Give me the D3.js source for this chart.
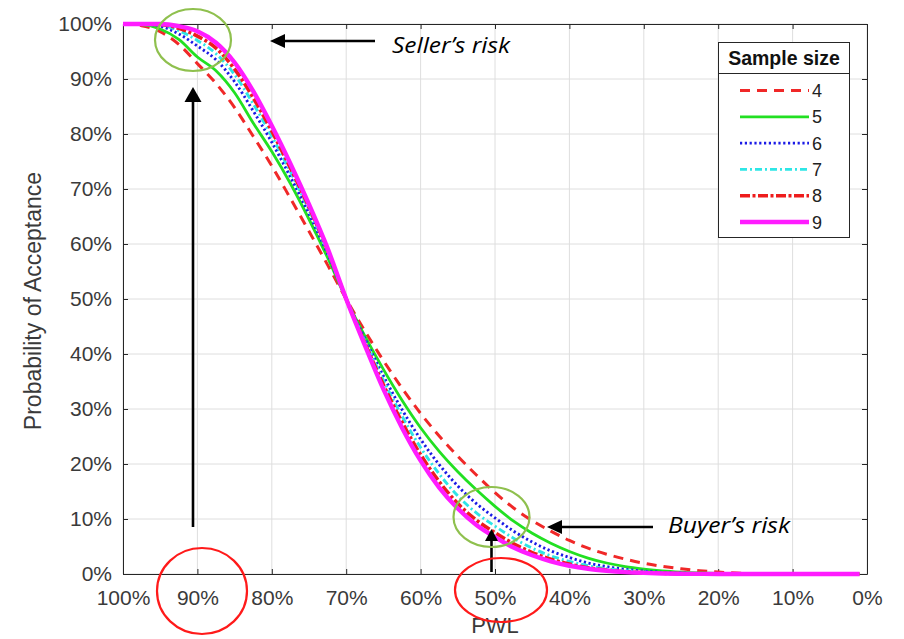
<!DOCTYPE html>
<html>
<head>
<meta charset="utf-8">
<script src="https://cdn.jsdelivr.net/npm/d3@7"></script>
<style>
  html, body { margin: 0; padding: 0; background: #fff; }
  svg { display: block; }
  .tick text { font-family: "Liberation Sans", Arial, sans-serif; }
</style>
</head>
<body>
<svg id="chart" width="904" height="639"></svg>
<script>
// PWL values (percent within limits) along the horizontal axis
const pwl = [100, 97.5, 95, 92.5, 90, 87.5, 85, 82.5, 80, 77.5, 75, 72.5, 70, 67.5, 65, 62.5, 60,
             57.5, 55, 52.5, 50, 47.5, 45, 42.5, 40, 37.5, 35, 32.5, 30, 27.5, 25, 22.5, 20, 17.5, 15, 10, 5, 1];

// Probability of acceptance (%) for each sample size
const n4 = [100, 99.7, 98.6, 96.3, 92.8, 89.2, 84.8, 79.6, 74.2, 68.3, 62.3, 56.2, 50, 44.2, 38.8, 33.8, 29.2,
            25.1, 21.4, 18.0, 14.8, 12.0, 9.7, 7.8, 6.1, 4.7, 3.6, 2.7, 1.95, 1.4, 0.95, 0.6, 0.35, 0.18, 0.08, 0.01, 0, 0];
const n5 = [100, 99.9, 99.1, 97.2, 94.0, 91.5, 87.5, 82.0, 76.8, 71.0, 64.5, 57.5, 50, 43.3, 37.2, 31.6, 26.6,
            22.3, 18.6, 15.3, 12.3, 9.6, 7.4, 5.6, 4.1, 2.9, 2.0, 1.35, 0.9, 0.55, 0.33, 0.18, 0.09, 0.04, 0.01, 0, 0, 0];
const n6 = [100, 100, 99.6, 98.2, 96.0, 93.5, 89.5, 84.2, 78.5, 72.2, 65.5, 58.2, 50, 42.8, 36.0, 29.9, 24.5,
            19.9, 16.0, 12.8, 10.2, 7.8, 5.8, 4.2, 3.0, 2.0, 1.35, 0.85, 0.52, 0.3, 0.17, 0.08, 0.03, 0.01, 0, 0, 0, 0];
const n7 = [100, 100, 99.8, 98.8, 97.0, 94.6, 90.8, 85.5, 79.6, 73.1, 66.2, 58.6, 50, 42.4, 35.2, 28.7, 23.0,
            18.2, 14.2, 11.1, 8.7, 6.5, 4.7, 3.3, 2.3, 1.5, 0.95, 0.6, 0.35, 0.2, 0.1, 0.04, 0.01, 0, 0, 0, 0, 0];
const n8 = [100, 100, 99.9, 99.2, 97.8, 95.6, 91.8, 86.6, 80.5, 73.8, 66.7, 58.9, 50, 42.0, 34.4, 27.6, 21.7,
            16.8, 12.8, 9.8, 7.5, 5.5, 3.9, 2.7, 1.8, 1.15, 0.7, 0.42, 0.24, 0.13, 0.06, 0.02, 0, 0, 0, 0, 0, 0];
const n9 = [100, 100, 100, 99.6, 98.7, 96.6, 93.0, 87.8, 81.5, 74.6, 67.2, 59.2, 50, 41.6, 33.6, 26.6, 20.6,
            15.7, 11.9, 8.9, 6.7, 4.8, 3.4, 2.3, 1.5, 0.95, 0.6, 0.35, 0.2, 0.1, 0.05, 0.02, 0, 0, 0, 0, 0, 0];

const sampleSizes = ["4", "5", "6", "7", "8", "9"];
const seriesValues = [n4, n5, n6, n7, n8, n9];

// Axis ticks
const xTicks = [100, 90, 80, 70, 60, 50, 40, 30, 20, 10, 0];
const yTicks = [0, 10, 20, 30, 40, 50, 60, 70, 80, 90, 100];

// Line styles per sample size
const lineStyles = {
  "4": { color: "#f02828", width: 3, dash: "10,7" },
  "5": { color: "#22e022", width: 2.8, dash: null },
  "6": { color: "#1a1ae6", width: 2.9, dash: "2.2,2.6" },
  "7": { color: "#2ee6e6", width: 2.9, dash: "7,3,2,3" },
  "8": { color: "#ee1c1c", width: 3.6, dash: "10,2.5,3,2.5" },
  "9": { color: "#ff1cff", width: 4.4, dash: null }
};

const svg = d3.select("#chart");
const plotLeft = 123, plotRight = 867, plotTop = 24, plotBottom = 574;

const x = d3.scaleLinear().domain([100, 0]).range([plotLeft, plotRight]);
const y = d3.scaleLinear().domain([0, 100]).range([plotBottom, plotTop]);
const pct = d => d + "%";

// Grid
const grid = svg.append("g");
grid.selectAll("line.gx").data(xTicks).join("line")
  .attr("x1", d => x(d)).attr("x2", d => x(d))
  .attr("y1", plotTop).attr("y2", plotBottom)
  .attr("stroke", "#dedede").attr("stroke-width", 1);
grid.selectAll("line.gy").data(yTicks).join("line")
  .attr("x1", plotLeft).attr("x2", plotRight)
  .attr("y1", d => y(d)).attr("y2", d => y(d))
  .attr("stroke", "#dedede").attr("stroke-width", 1);

// Axes with inward ticks on all four sides
function styleAxis(g) {
  g.select(".domain").attr("stroke", "#262626");
  g.selectAll(".tick line").attr("stroke", "#262626");
  g.selectAll(".tick text").attr("fill", "#3a3a3a").attr("font-size", 21);
}
svg.append("g").attr("transform", `translate(0,${plotBottom})`)
  .call(d3.axisBottom(x).tickValues(xTicks).tickFormat(pct).tickSizeInner(-5).tickSizeOuter(0).tickPadding(16))
  .call(styleAxis);
svg.append("g").attr("transform", `translate(${plotLeft},0)`)
  .call(d3.axisLeft(y).tickValues(yTicks).tickFormat(pct).tickSizeInner(-5).tickSizeOuter(0).tickPadding(11))
  .call(styleAxis);
svg.append("g").attr("transform", `translate(0,${plotTop})`)
  .call(d3.axisTop(x).tickValues(xTicks).tickFormat("").tickSizeInner(-5).tickSizeOuter(0))
  .call(styleAxis);
svg.append("g").attr("transform", `translate(${plotRight},0)`)
  .call(d3.axisRight(y).tickValues(yTicks).tickFormat("").tickSizeInner(-5).tickSizeOuter(0))
  .call(styleAxis);

// Axis titles
svg.append("text")
  .attr("x", x(50)).attr("y", 633)
  .attr("text-anchor", "middle")
  .attr("font-family", "Liberation Sans, Arial, sans-serif")
  .attr("font-size", 22).attr("fill", "#3a3a3a")
  .text("PWL");
svg.append("text")
  .attr("transform", `translate(41,${(plotTop + plotBottom) / 2 + 2}) rotate(-90)`)
  .attr("text-anchor", "middle")
  .attr("font-family", "Liberation Sans, Arial, sans-serif")
  .attr("font-size", 23).attr("fill", "#3a3a3a")
  .text("Probability of Acceptance");

// Operating characteristic curves
const line = d3.line()
  .x(d => x(d[0]))
  .y(d => y(d[1]))
  .curve(d3.curveMonotoneX);

sampleSizes.forEach((name, i) => {
  const st = lineStyles[name];
  svg.append("path")
    .datum(pwl.map((p, j) => [p, seriesValues[i][j]]))
    .attr("d", line)
    .attr("fill", "none")
    .attr("stroke", st.color)
    .attr("stroke-width", st.width)
    .attr("stroke-dasharray", st.dash)
    .attr("stroke-linejoin", "round");
});

// Legend
const lg = svg.append("g");
lg.append("rect").attr("x", 718.5).attr("y", 42.5).attr("width", 131).attr("height", 195)
  .attr("fill", "#fff").attr("stroke", "#262626").attr("stroke-width", 1);
lg.append("line").attr("x1", 718.5).attr("x2", 849.5).attr("y1", 73.5).attr("y2", 73.5)
  .attr("stroke", "#262626").attr("stroke-width", 1);
lg.append("text").attr("x", 784).attr("y", 65).attr("text-anchor", "middle")
  .attr("font-family", "Liberation Sans, Arial, sans-serif")
  .attr("font-size", 19.5).attr("font-weight", "bold").attr("fill", "#111")
  .text("Sample size");
sampleSizes.forEach((name, i) => {
  const st = lineStyles[name];
  const ly = 90.5 + i * 26.3;
  lg.append("line").attr("x1", 740).attr("x2", 809).attr("y1", ly).attr("y2", ly)
    .attr("stroke", st.color).attr("stroke-width", st.width)
    .attr("stroke-dasharray", st.dash);
  lg.append("text").attr("x", 812).attr("y", ly + 6.5)
    .attr("font-family", "Liberation Sans, Arial, sans-serif")
    .attr("font-size", 18).attr("fill", "#222")
    .text(name);
});

// Annotations
const ann = svg.append("g");
function arrow(x1, y1, x2, y2, headLen, headHalf) {
  const ang = Math.atan2(y2 - y1, x2 - x1);
  const bx = x2 - headLen * Math.cos(ang), by = y2 - headLen * Math.sin(ang);
  ann.append("line").attr("x1", x1).attr("y1", y1).attr("x2", bx).attr("y2", by)
    .attr("stroke", "#000").attr("stroke-width", 2.6);
  const px = -Math.sin(ang) * headHalf, py = Math.cos(ang) * headHalf;
  ann.append("path")
    .attr("d", `M${x2},${y2}L${bx + px},${by + py}L${bx - px},${by - py}Z`)
    .attr("fill", "#000");
}
arrow(193, 527, 193, 87, 15, 8.5);
arrow(375, 41, 270, 41, 15, 7);
arrow(653, 527, 547, 527, 15, 7);
arrow(491.5, 572, 491.5, 529, 12, 6.5);

const ellipses = [
  { cx: 193, cy: 40, rx: 38, ry: 31, color: "#8fc04e" },
  { cx: 491.5, cy: 517, rx: 38, ry: 30, color: "#8fc04e" },
  { cx: 202, cy: 591, rx: 45, ry: 43, color: "#ff1a1a" },
  { cx: 501, cy: 590, rx: 46, ry: 32, color: "#ff1a1a" }
];
ellipses.forEach(e => {
  ann.append("ellipse").attr("cx", e.cx).attr("cy", e.cy).attr("rx", e.rx).attr("ry", e.ry)
    .attr("fill", "none").attr("stroke", e.color).attr("stroke-width", 2.2);
});

ann.append("text").attr("x", 392).attr("y", 53)
  .attr("font-family", "Open Sans, Liberation Sans, sans-serif")
  .attr("font-style", "italic").attr("font-size", 22).attr("fill", "#000")
  .attr("textLength", 118).attr("lengthAdjust", "spacingAndGlyphs")
  .text("Seller’s risk");
ann.append("text").attr("x", 668).attr("y", 533)
  .attr("font-family", "Open Sans, Liberation Sans, sans-serif")
  .attr("font-style", "italic").attr("font-size", 22).attr("fill", "#000")
  .attr("textLength", 122).attr("lengthAdjust", "spacingAndGlyphs")
  .text("Buyer’s risk");
</script>
</body>
</html>
